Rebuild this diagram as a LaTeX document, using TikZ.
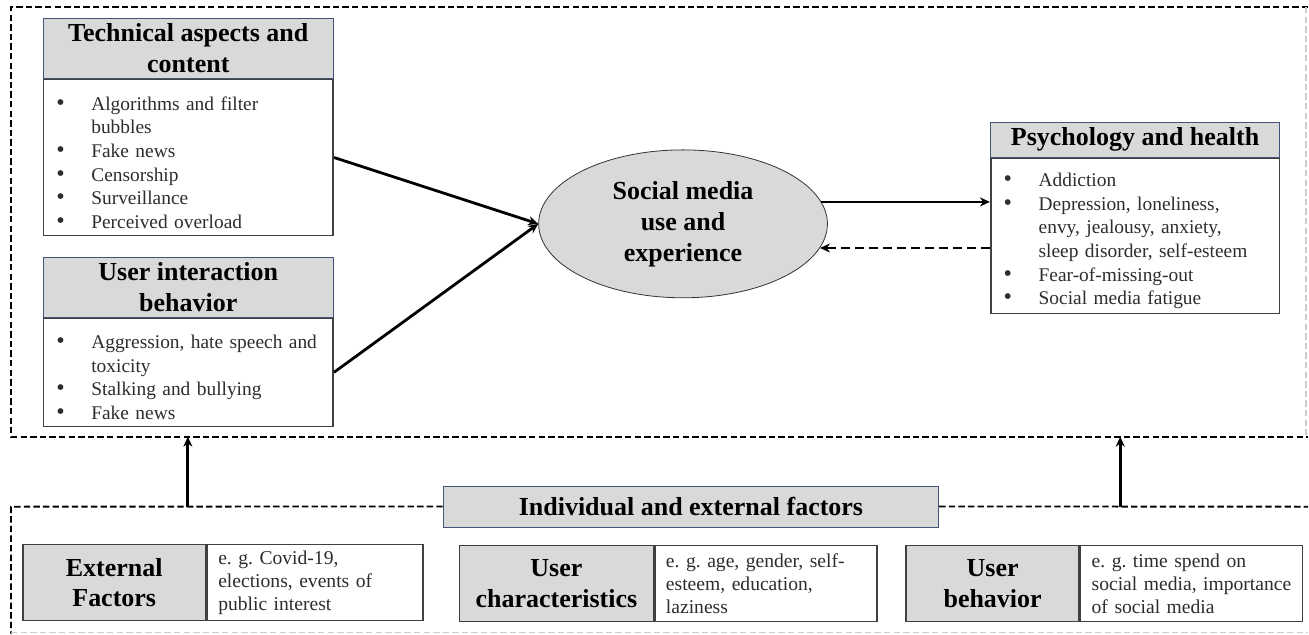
\documentclass[tikz,border=0pt]{standalone}
\usepackage{fontspec}
\setmainfont{Liberation Serif}
\usetikzlibrary{positioning, arrows.meta, shapes.geometric}

\definecolor{boxgray}{RGB}{217,217,217}
\definecolor{hdrline}{RGB}{68,84,120}
\definecolor{txtgray}{RGB}{45,45,45}
\frenchspacing
\newcommand{\bl}{\par\noindent\hbox to 17pt{\hskip-0.5pt{\fontsize{12}{12}\selectfont\textbullet}\hfil}}
\newcommand{\bc}{\par\noindent\hbox to 17pt{\hfil}}

\begin{document}
\begin{tikzpicture}[x=0.5pt, y=-0.5pt]
		\tikzset{
			>={Stealth[length=5pt, width=4.5pt]},
			header/.style={draw=hdrline, fill=boxgray, anchor=north west, align=center, inner sep=0pt, font=\bfseries\fontsize{13}{15.5}\selectfont},
			listbox/.style={draw=black!75, line width=0.8pt, fill=white, align=left, inner xsep=7pt, inner ysep=0pt, text width=131pt, text=txtgray, font=\fontsize{9.7}{11.85}\selectfont},
			factor/.style={draw=black!75, line width=0.8pt, fill=boxgray, anchor=north west, align=center, inner sep=0pt, minimum height=38pt, font=\bfseries\fontsize{13}{15.3}\selectfont},
			example/.style={draw=black!75, line width=0.8pt, fill=white, align=left, inner xsep=5.5pt, inner ysep=0pt, minimum height=38pt, text width=100pt, text=txtgray, font=\fontsize{9.8}{11.5}\selectfont},
			frame/.style={dash pattern=on 3.2pt off 1.6pt, line width=0.9pt},
			flow/.style={->, line width=1.4pt},
			dashflow/.style={->, line width=1.4pt, dash pattern=on 4.5pt off 2.5pt}
		}
		
		% Frames
		\draw[frame] (1309,7) -- (11,7) -- (11,437) -- (1309,437);
		\draw[frame, black!20] (1307,7) -- (1307,437);
		
		% Left boxes
		\node[header, minimum width=145pt, minimum height=30pt] (techhdr) at (43,18) {Technical aspects and\\content};
		\node[listbox, below=0pt of techhdr, minimum height=78pt] (techbody) {\bl Algorithms and filter \bc bubbles \bl Fake news \bl Censorship \bl Surveillance \bl Perceived overload};
		
		\node[header, minimum width=145pt, minimum height=30pt] (uihdr) at (43,257) {User interaction\\behavior};
		\node[listbox, below=0pt of uihdr, minimum height=54pt] (uibody) {\bl Aggression, hate speech and \bc toxicity \bl Stalking and bullying \bl Fake news};
		
		% Centre node
		\node[ellipse, draw=black!80, fill=boxgray, minimum width=144.5pt, minimum height=74pt, align=center, font=\bfseries\fontsize{13}{15.5}\selectfont] (sme) at (683.5,224) {Social media\\use and\\experience};
		
		% Right box
		\node[header, minimum width=144.5pt, minimum height=17.5pt] (psyhdr) at (991,122) {Psychology and health};
		\node[listbox, below=0pt of psyhdr, minimum height=77.5pt, text width=130.5pt] (psybody) {\bl Addiction \bl Depression, loneliness, \bc envy, jealousy, anxiety, \bc sleep disorder, self-esteem \bl Fear-of-missing-out \bl Social media fatigue};
		
		% Bottom group
		\node[header, minimum width=248pt, minimum height=20.5pt] (indiv) at (443,486) {Individual and external factors};
		\draw[frame] (indiv.west) -- (11,507) -- (11,634);
		\draw[frame] (indiv.east) -- (1309,507);
		\draw[frame, black!20] (11,633) -- (1309,633);
		
		\node[factor, minimum width=91.5pt] (extf) at (22,544) {External\\Factors};
		\node[example, right=0pt of extf, text width=97pt] (extex) {e. g. Covid-19,\\elections, events of\\public interest};
		
		\node[factor, minimum width=97pt] (charf) at (459,545) {User\\characteristics};
		\node[example, right=0pt of charf] (charex) {e. g. age, gender, self-\\esteem, education,\\laziness};
		
		\node[factor, minimum width=86.5pt] (behf) at (906,545) {User\\behavior};
		\node[example, right=0pt of behf] (behex) {e. g. time spend on\\social media, importance\\of social media};
		
		% Draw arrows between nodes
		\draw[flow] (techbody.east) -- (sme.west);
		\draw[flow] (uibody.east) -- (sme.west);
		\draw[flow] (sme.9) -- (sme.9 -| psybody.west);
		\draw[dashflow] (sme.-10 -| psybody.west) -- (sme.-10);
		
		\coordinate (leftfoot) at (188,507);
		\coordinate (lefthead) at (188,437);
		\coordinate (rightfoot) at (1121,507);
		\coordinate (righthead) at (1121,437);
		\draw[flow] (leftfoot) -- (lefthead);
		\draw[flow] (rightfoot) -- (righthead);
		
		\useasboundingbox (0,0) rectangle (1309,634);
	\end{tikzpicture}
\end{document}
